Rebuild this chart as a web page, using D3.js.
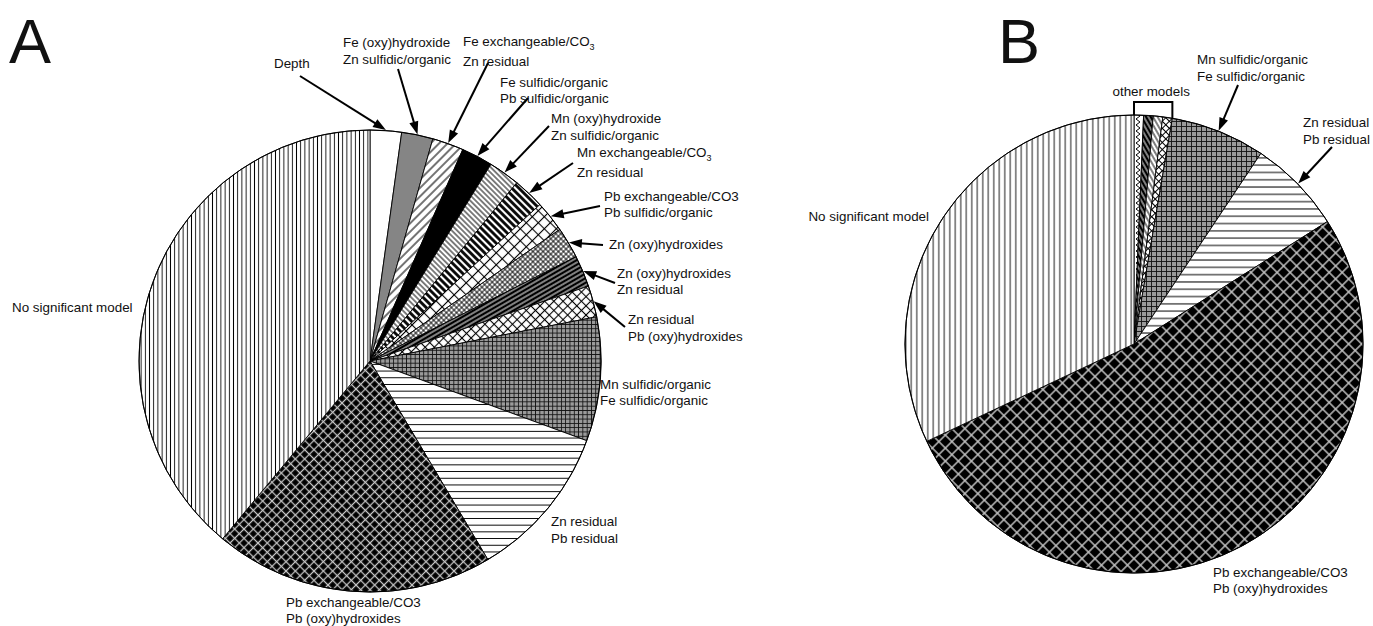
<!DOCTYPE html>
<html><head><meta charset="utf-8">
<script src="https://cdn.jsdelivr.net/npm/d3@7/dist/d3.min.js"></script>
<style>
html,body{margin:0;padding:0;background:#fff;}
svg{display:block;}
text{font-family:"Liberation Sans",Arial,Helvetica,sans-serif;fill:#111;}
</style></head><body>
<svg id="chart" width="1373" height="626"></svg>
<script>
// ---------------- data ----------------
// Panel A: categories (clockwise from 12 o'clock), "|" separates label lines, "_" marks a subscript
const aCategories = [
  "Depth",
  "Fe (oxy)hydroxide|Zn sulfidic/organic",
  "Fe exchangeable/CO_3|Zn residual",
  "Fe sulfidic/organic|Pb sulfidic/organic",
  "Mn (oxy)hydroxide|Zn sulfidic/organic",
  "Mn exchangeable/CO_3|Zn residual",
  "Pb exchangeable/CO3|Pb sulfidic/organic",
  "Zn (oxy)hydroxides",
  "Zn (oxy)hydroxides|Zn residual",
  "Zn residual|Pb (oxy)hydroxides",
  "Mn sulfidic/organic|Fe sulfidic/organic",
  "Zn residual|Pb residual",
  "Pb exchangeable/CO3|Pb (oxy)hydroxides",
  "No significant model"
];
const aValues = [2.2, 2.2, 2.2, 2.2, 2.2, 2.2, 2.2, 2.2, 2.2, 2.2, 8.7, 10.9, 19.6, 39.1];

// Panel B
const bCategories = [
  "other model 1",
  "other model 2",
  "other model 3",
  "other model 4",
  "Mn sulfidic/organic|Fe sulfidic/organic",
  "Zn residual|Pb residual",
  "Pb exchangeable/CO3|Pb (oxy)hydroxides",
  "No significant model"
];
const bValues = [0.67, 0.67, 0.67, 0.67, 6.67, 6.67, 52.0, 32.0];
const bGroupLabel = "other models";
const panelLetters = ["A", "B"];

// ---------------- styles / layout ----------------
const aFill = ["white","gray","fwdA","black","backDenseA","backThickA","bigCrossA","smallCrossA",
               "blackStripeA","diagCrossA","gridA","horizA","blackDiamondA","vertA"];
const bFill = ["zigzagB","blackStripeB","backDenseB","diagCrossB","gridB","horizB","blackDiamondB","vertB"];

const aLayout = [
  {x:274, y:68,  arrow:[300,76]},
  {x:343, y:47,  dy:17, arrow:[398,69]},
  {x:463, y:46,  dy:20, arrow:[488,63]},
  {x:500, y:87,  dy:16, arrow:[528,98]},
  {x:551, y:123, dy:17, arrow:[549,126]},
  {x:577, y:157, dy:20, arrow:[573,163]},
  {x:604, y:201, dy:16, arrow:[600,206]},
  {x:609, y:249, arrow:[603,245]},
  {x:617, y:278, dy:16, arrow:[615,283]},
  {x:628, y:324, dy:16.5, arrow:[625,327]},
  {x:600, y:389, dy:15.5},
  {x:551, y:526, dy:16.5},
  {x:286, y:607, dy:16},
  {x:12,  y:312}
];
const bLayout = [
  null, null, null, null,
  {x:1197, y:64,  dy:16.5, arrow:[1238,85]},
  {x:1303, y:127, dy:16.5, arrow:[1332,147]},
  {x:1213, y:577, dy:16},
  {x:929,  y:221, anchor:"end"}
];

const svg = d3.select("#chart");
const defs = svg.append("defs");

function linePat(id, s, angle, bg, fg, sw) {
  const p = defs.append("pattern").attr("id", id).attr("patternUnits","userSpaceOnUse")
    .attr("width", s).attr("height", s).attr("patternTransform", `rotate(${angle})`);
  p.append("rect").attr("width", s).attr("height", s).attr("fill", bg);
  p.append("line").attr("x1", s/2).attr("x2", s/2).attr("y1", -1).attr("y2", s+1)
    .attr("stroke", fg).attr("stroke-width", sw);
}
function crossPat(id, s, angle, bg, fg, sw) {
  const p = defs.append("pattern").attr("id", id).attr("patternUnits","userSpaceOnUse")
    .attr("width", s).attr("height", s).attr("patternTransform", `rotate(${angle})`);
  p.append("rect").attr("width", s).attr("height", s).attr("fill", bg);
  p.append("line").attr("x1", s/2).attr("x2", s/2).attr("y1", -1).attr("y2", s+1)
    .attr("stroke", fg).attr("stroke-width", sw);
  p.append("line").attr("y1", s/2).attr("y2", s/2).attr("x1", -1).attr("x2", s+1)
    .attr("stroke", fg).attr("stroke-width", sw);
}
function solidPat(id, c) {
  const p = defs.append("pattern").attr("id", id).attr("patternUnits","userSpaceOnUse")
    .attr("width", 4).attr("height", 4);
  p.append("rect").attr("width", 4).attr("height", 4).attr("fill", c);
}
function zigzagPat(id) {
  const p = defs.append("pattern").attr("id", id).attr("patternUnits","userSpaceOnUse")
    .attr("width", 7).attr("height", 6);
  p.append("rect").attr("width", 7).attr("height", 6).attr("fill", "#fff");
  p.append("path").attr("d", "M6,0 L2,3 L6,6").attr("fill","none").attr("stroke","#000").attr("stroke-width",1);
}

solidPat("white", "#fff");
solidPat("gray", "#858585");
solidPat("black", "#000");
linePat("fwdA", 6, 45, "#fff", "#000", 1.1);
linePat("backDenseA", 3.8, -45, "#fff", "#000", 1.0);
linePat("backThickA", 5, -45, "#fff", "#000", 2.8);
crossPat("bigCrossA", 8.5, 45, "#fff", "#000", 1.1);
crossPat("smallCrossA", 3.6, 45, "#fff", "#000", 0.9);
linePat("blackStripeA", 4, 60, "#000", "#fff", 1.0);
crossPat("diagCrossA", 6.5, 45, "#fff", "#000", 1.1);
crossPat("gridA", 4.3, 0, "#9a9a9a", "#111", 0.9);
linePat("horizA", 6.7, 90, "#fff", "#000", 1.0);
crossPat("blackDiamondA", 6.6, 45, "#000", "#c4c4c4", 1.3);
linePat("vertA", 4.2, 0, "#fff", "#000", 0.9);

zigzagPat("zigzagB");
linePat("blackStripeB", 4, -30, "#000", "#fff", 1.0);
linePat("backDenseB", 4, -30, "#fff", "#000", 1.0);
crossPat("diagCrossB", 5, 45, "#fff", "#000", 1.0);
crossPat("gridB", 5, 0, "#9a9a9a", "#111", 0.9);
linePat("horizB", 7.3, 90, "#fff", "#000", 1.0);
crossPat("blackDiamondB", 9.2, 45, "#000", "#c4c4c4", 1.4);
linePat("vertB", 5.5, 0, "#fff", "#000", 0.9);

const FS = 13.4;

function drawLabel(g, text, L) {
  const lines = text.split("|");
  const t = g.append("text").attr("x", L.x).attr("y", L.y)
    .attr("font-size", FS).attr("text-anchor", L.anchor || "start");
  lines.forEach((ln, i) => {
    const parts = ln.split("_");
    t.append("tspan").attr("x", L.x).attr("y", L.y + i * (L.dy || 16)).text(parts[0]);
    if (parts[1]) {
      t.append("tspan").attr("font-size", 9).attr("dy", 4).text(parts[1]);
    }
  });
}

function drawArrow(g, from, to) {
  const dx = to[0]-from[0], dy = to[1]-from[1];
  const len = Math.hypot(dx, dy), ux = dx/len, uy = dy/len;
  const hl = 13, hw = 4.6;
  const bx = to[0]-ux*hl, by = to[1]-uy*hl;
  g.append("line").attr("x1", from[0]).attr("y1", from[1]).attr("x2", bx+ux*2).attr("y2", by+uy*2)
    .attr("stroke", "#000").attr("stroke-width", 2);
  g.append("path").attr("d", `M${to[0]},${to[1]} L${bx - uy*hw},${by + ux*hw} L${bx + uy*hw},${by - ux*hw} Z`)
    .attr("fill", "#000");
}

function drawPie(cfg) {
  const {cx, cy, r, values, cats, fills, layout} = cfg;
  const pie = d3.pie().sort(null).value(d => d);
  const arcs = pie(values);
  const arc = d3.arc().innerRadius(0).outerRadius(r);
  const edge = d3.arc().innerRadius(r + 0.5).outerRadius(r + 0.5);
  const g = svg.append("g").attr("transform", `translate(${cx},${cy})`);
  g.selectAll("path.slice").data(arcs).join("path").attr("class","slice")
    .attr("d", arc).attr("fill", (d,i) => `url(#${fills[i]})`)
    .attr("stroke", "#000").attr("stroke-width", 0.9).attr("stroke-linejoin","round");
  g.append("circle").attr("r", r).attr("fill","none").attr("stroke","#000").attr("stroke-width",1);
  const lg = svg.append("g");
  arcs.forEach((d, i) => {
    const L = layout[i];
    if (!L) return;
    drawLabel(lg, cats[i], L);
    if (L.arrow) {
      const c = edge.centroid(d);
      drawArrow(lg, L.arrow, [cx + c[0], cy + c[1]]);
    }
  });
  return {arcs, g};
}

drawPie({cx:370, cy:361, r:231, values:aValues, cats:aCategories, fills:aFill, layout:aLayout});
const pb = drawPie({cx:1134, cy:344, r:229, values:bValues, cats:bCategories, fills:bFill, layout:bLayout});

// bracket over the "other models" group in B
(function() {
  const cx = 1134, cy = 344, r = 229;
  const a0 = pb.arcs[0].startAngle, a1 = pb.arcs[3].endAngle;
  const p0 = [cx + r*Math.sin(a0), cy - r*Math.cos(a0)];
  const p1 = [cx + r*Math.sin(a1), cy - r*Math.cos(a1)];
  const top = 102;
  svg.append("path").attr("d", `M${p0[0]},${p0[1]} L${p0[0]},${top} L${p1[0]},${top} L${p1[0]},${p1[1]}`)
    .attr("fill","none").attr("stroke","#000").attr("stroke-width",2);
  svg.append("text").attr("x", (p0[0]+p1[0])/2 - 2).attr("y", 96).attr("text-anchor","middle")
    .attr("font-size", FS).text(bGroupLabel);
})();

// panel letters
svg.append("text").attr("x", 9).attr("y", 63).attr("font-size", 63).text(panelLetters[0]);
svg.append("text").attr("x", 998).attr("y", 63).attr("font-size", 63).text(panelLetters[1]);
</script>
</body></html>
